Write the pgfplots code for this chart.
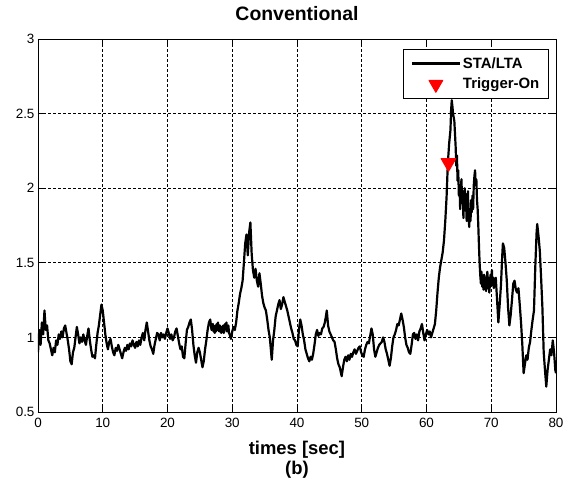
\documentclass[border=0pt]{standalone}
\usepackage{pgfplots}
\pgfplotsset{compat=1.18}
\usepackage{fontspec}
\setmainfont{Liberation Sans}
\begin{document}
\begin{tikzpicture}
\path[use as bounding box] (-38bp,-71bp) rectangle (533bp,412bp);
\begin{axis}[
  at={(0,0)}, anchor=south west,
  scale only axis, width=518bp, height=373bp,
  xmin=0, xmax=80, ymin=0.5, ymax=3,
  xtick={0,10,...,80}, ytick={0.5,1,1.5,2,2.5,3},
  yticklabels={0.5,1,1.5,2,2.5,3},
  tick pos=both, tick align=inside, major tick length=5bp,
  tick style={black, line width=0.6bp},
  axis line style={black, line width=0.8bp},
  grid=major,
  major grid style={black, line width=0.6bp, dash pattern=on 2.5bp off 2.5bp},
  /pgf/number format/assume math mode=true,
  ticklabel style={font=\fontsize{13.5}{15}\selectfont, black},
  xticklabel style={yshift=-3bp},
  title={\bfseries Conventional},
  title style={at={(0.5,1)}, anchor=base, yshift=13bp, inner sep=0pt, font=\fontsize{19.5}{22}\selectfont},
  xlabel={\bfseries times [sec]\\\bfseries (b)},
  xlabel style={at={(0.5,0)}, anchor=north, inner sep=0pt, yshift=-29bp, align=center, font=\fontsize{18.5}{20.5}\selectfont},
  legend style={at={(0.986,0.972)}, anchor=north east, draw=black, line width=0.8bp,
    font=\bfseries\fontsize{15}{17}\selectfont, inner xsep=7bp, inner ysep=5.5bp, row sep=4.5bp},
  legend cell align=left,
]
\addplot[black, line width=2.2bp, line join=round,
  legend image code/.code={\draw[black,line width=2.2bp] (0bp,0bp) -- (48bp,0bp);}]
table {
x y
0.0 0.90
0.2 1.05
0.4 0.95
0.6 1.10
0.8 1.02
1.0 1.18
1.2 1.05
1.4 1.08
1.6 0.98
1.8 0.96
2.0 0.92
2.2 0.88
2.4 0.93
2.6 0.90
2.8 0.98
3.0 0.95
3.2 1.02
3.4 0.99
3.6 1.04
3.8 1.00
4.0 1.06
4.2 1.08
4.4 1.03
4.6 0.98
4.8 0.92
5.0 0.84
5.2 0.82
5.4 0.90
5.6 0.93
5.8 1.00
6.0 1.07
6.2 1.02
6.4 0.96
6.6 1.00
6.8 0.97
7.0 1.02
7.2 0.98
7.4 0.95
7.6 1.01
7.8 1.06
8.0 0.98
8.2 0.92
8.4 0.87
8.6 0.88
8.8 0.86
9.0 0.95
9.2 1.03
9.4 1.08
9.6 1.15
9.8 1.22
10.0 1.18
10.2 1.10
10.4 1.02
10.6 0.96
10.8 0.92
11.0 0.97
11.2 0.99
11.4 0.94
11.6 0.90
11.8 0.88
12.0 0.93
12.2 0.91
12.4 0.95
12.6 0.92
12.8 0.89
13.0 0.86
13.2 0.90
13.4 0.93
13.6 0.91
13.8 0.95
14.0 0.92
14.2 0.96
14.4 0.94
14.6 0.98
14.8 0.95
15.0 0.93
15.2 0.97
15.4 0.94
15.6 0.98
15.8 0.95
16.0 1.00
16.2 1.03
16.4 0.98
16.6 1.05
16.8 1.10
17.0 1.04
17.2 0.98
17.4 0.94
17.6 0.92
17.8 0.89
18.0 0.95
18.2 0.99
18.4 1.03
18.6 1.02
18.8 0.98
19.0 1.03
19.2 1.00
19.4 1.02
19.6 0.99
19.8 1.03
20.0 1.06
20.2 1.03
20.4 0.99
20.6 1.02
20.8 0.98
21.0 1.00
21.2 1.04
21.4 1.06
21.6 1.01
21.8 0.96
22.0 0.92
22.2 0.94
22.4 0.87
22.6 0.86
22.8 0.96
23.0 1.05
23.2 1.07
23.4 1.10
23.6 1.12
23.8 1.05
24.0 0.95
24.2 0.88
24.4 0.83
24.6 0.90
24.8 0.93
25.0 0.90
25.2 0.85
25.4 0.80
25.6 0.84
25.8 0.92
26.0 0.98
26.2 1.05
26.4 1.10
26.6 1.12
26.8 1.05
27.0 1.09
27.1 1.04
27.2 1.07
27.3 1.03
27.4 1.08
27.5 1.04
27.6 1.09
27.7 1.05
27.8 1.10
27.9 1.05
28.0 1.04
28.1 1.08
28.2 1.05
28.3 1.03
28.4 1.07
28.5 1.04
28.6 1.08
28.7 1.03
28.8 1.05
28.9 1.09
29.0 1.06
29.1 1.10
29.2 1.04
29.3 1.07
29.4 1.08
29.5 1.03
29.6 1.02
29.8 0.99
30.0 1.04
30.2 1.07
30.4 1.05
30.6 1.10
30.8 1.18
31.0 1.23
31.2 1.29
31.4 1.33
31.6 1.38
31.8 1.50
32.0 1.63
32.2 1.69
32.4 1.55
32.6 1.70
32.8 1.77
33.0 1.56
33.2 1.45
33.4 1.40
33.6 1.46
33.8 1.38
34.0 1.34
34.2 1.43
34.4 1.36
34.6 1.28
34.8 1.23
35.0 1.20
35.2 1.18
35.4 1.12
35.6 1.05
35.8 1.00
36.0 0.90
36.1 0.85
36.3 0.98
36.5 1.05
36.7 1.14
36.9 1.18
37.1 1.22
37.3 1.25
37.5 1.19
37.7 1.22
37.9 1.27
38.1 1.24
38.3 1.21
38.5 1.18
38.7 1.14
38.9 1.10
39.1 1.06
39.3 1.03
39.5 0.99
39.7 0.98
39.9 0.95
40.1 0.94
40.3 1.05
40.5 1.12
40.7 1.08
40.9 1.02
41.1 0.98
41.3 0.92
41.5 0.89
41.7 0.86
41.9 0.84
42.1 0.87
42.3 0.85
42.5 0.89
42.7 0.95
42.9 1.02
43.1 1.05
43.3 1.01
43.5 1.03
43.7 1.02
43.9 1.06
44.1 1.07
44.3 1.10
44.5 1.15
44.6 1.18
44.8 1.08
45.0 1.04
45.2 1.02
45.4 1.00
45.6 0.98
45.8 0.97
46.0 0.92
46.2 0.86
46.4 0.82
46.6 0.80
46.8 0.76
46.9 0.74
47.1 0.80
47.3 0.85
47.5 0.87
47.7 0.84
47.9 0.88
48.1 0.85
48.3 0.89
48.5 0.87
48.7 0.90
48.9 0.92
49.1 0.89
49.3 0.91
49.5 0.93
49.7 0.94
49.9 0.90
50.1 0.88
50.3 0.87
50.5 0.92
50.7 0.95
50.9 0.97
51.1 0.96
51.3 1.01
51.5 1.06
51.7 1.02
51.9 0.92
52.1 0.87
52.3 0.90
52.5 0.93
52.7 0.95
52.9 0.96
53.1 0.97
53.3 1.00
53.5 0.97
53.7 0.92
53.9 0.89
54.1 0.85
54.3 0.81
54.5 0.86
54.7 0.94
54.9 1.00
55.1 1.02
55.3 1.05
55.5 1.09
55.7 1.08
55.9 1.12
56.1 1.16
56.3 1.12
56.5 1.07
56.7 1.00
56.9 0.95
57.1 0.93
57.3 0.90
57.5 0.89
57.7 0.95
57.9 1.02
58.1 1.03
58.3 0.99
58.5 1.02
58.7 0.98
58.9 1.04
59.1 1.06
59.3 1.09
59.5 1.03
59.7 0.98
59.9 1.02
60.1 1.05
60.3 1.02
60.5 1.04
60.7 1.00
60.9 1.03
61.1 1.06
61.3 1.09
61.5 1.18
61.7 1.30
61.9 1.40
62.1 1.47
62.3 1.52
62.5 1.57
62.7 1.65
62.9 1.78
63.1 1.94
63.3 2.17
63.5 2.30
63.7 2.39
63.8 2.52
63.9 2.59
64.0 2.55
64.1 2.50
64.3 2.45
64.5 2.28
64.6 2.15
64.7 2.22
64.8 2.05
64.9 2.12
65.0 1.95
65.1 2.02
65.2 1.86
65.3 2.00
65.4 2.06
65.5 1.90
65.6 1.98
65.7 1.80
65.8 1.92
65.9 2.00
66.0 1.85
66.1 1.96
66.2 1.78
66.3 1.90
66.4 1.98
66.5 1.80
66.6 1.74
66.7 1.86
66.8 1.78
66.9 1.92
67.0 1.84
67.1 1.95
67.2 1.86
67.3 2.02
67.4 2.08
67.5 2.12
67.6 2.02
67.7 2.06
67.8 1.92
67.9 1.86
68.0 1.75
68.1 1.62
68.2 1.50
68.3 1.42
68.4 1.36
68.5 1.44
68.6 1.34
68.7 1.40
68.8 1.32
68.9 1.42
69.0 1.36
69.1 1.40
69.2 1.31
69.3 1.38
69.4 1.44
69.5 1.33
69.6 1.40
69.7 1.30
69.8 1.36
69.9 1.42
70.0 1.38
70.1 1.45
70.2 1.35
70.3 1.40
70.4 1.33
70.5 1.38
70.7 1.40
70.9 1.25
71.1 1.10
71.3 1.22
71.5 1.35
71.7 1.55
71.8 1.63
72.0 1.60
72.2 1.50
72.4 1.38
72.6 1.20
72.8 1.08
73.0 1.15
73.2 1.25
73.4 1.36
73.6 1.38
73.8 1.32
74.0 1.30
74.2 1.33
74.4 1.22
74.6 1.10
74.8 0.95
75.0 0.76
75.2 0.82
75.4 0.88
75.6 0.85
75.8 0.93
76.0 0.97
76.2 1.05
76.4 1.12
76.6 1.18
76.8 1.47
77.0 1.70
77.1 1.76
77.3 1.68
77.5 1.58
77.7 1.40
77.9 1.20
78.1 0.90
78.3 0.78
78.5 0.67
78.7 0.78
78.9 0.85
79.1 0.92
79.3 0.88
79.5 0.98
79.7 0.90
79.9 0.78
80.0 0.76
};
\addlegendentry{STA/LTA}
\addplot[only marks, mark=triangle*, mark size=8.5bp,
  mark options={rotate=180, fill=red, draw=red, line width=1bp, line join=round},
  legend image code/.code={\draw[red, mark=triangle*, mark size=8bp, mark options={rotate=180, fill=red, draw=red, line width=1bp, line join=round}] plot coordinates {(24bp,0bp)};}]
coordinates {(63.4,2.17)};
\addlegendentry{Trigger-On}
\end{axis}
\end{tikzpicture}
\end{document}
